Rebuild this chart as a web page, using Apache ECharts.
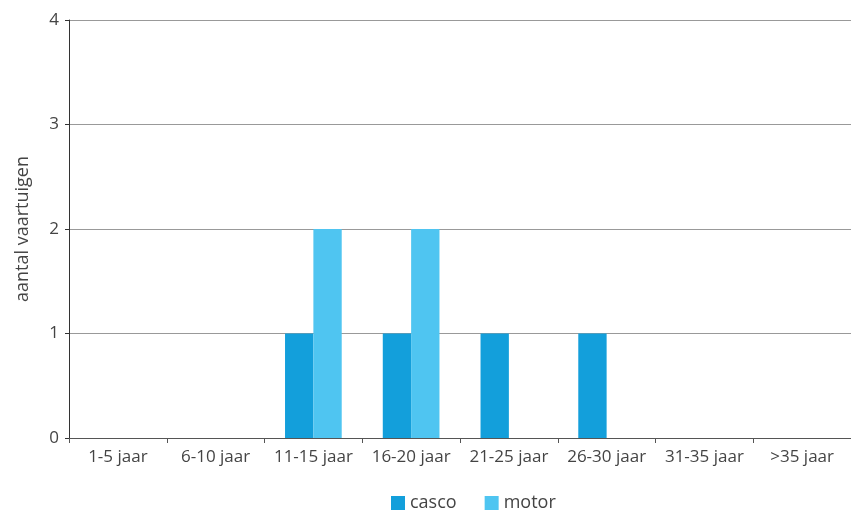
<!DOCTYPE html>
<html><head><meta charset="utf-8">
<script src="https://cdn.jsdelivr.net/npm/echarts@6/dist/echarts.min.js"></script>
<style>html,body{margin:0;padding:0;background:#fff}#c{width:851px;height:513px}</style>
</head><body><div id="c"></div>
<script>
const categories = ['1-5 jaar','6-10 jaar','11-15 jaar','16-20 jaar','21-25 jaar','26-30 jaar','31-35 jaar','>35 jaar'];
const casco = [0,0,1,1,1,1,0,0];
const motor = [0,0,2,2,0,0,0,0];
const yTicks = [0,1,2,3,4];
const chart = echarts.init(document.getElementById('c'));
const font = 'Open Sans';
chart.setOption({
  animation:false,
  textStyle:{fontFamily:font},
  grid:{left:69,right:0,top:20,bottom:75,containLabel:false},
  legend:{top:489,left:386,itemWidth:14,itemHeight:14,itemGap:28,icon:'rect',
    textStyle:{fontFamily:font,fontSize:18,color:'#444'},data:['casco','motor']},
  xAxis:{type:'category',data:categories,
    axisLine:{lineStyle:{color:'#555',width:1}},
    axisTick:{show:true,alignWithLabel:false,length:5,lineStyle:{color:'#555'}},
    axisLabel:{interval:0,fontFamily:font,fontSize:17,color:'#444',margin:11}},
  yAxis:{type:'value',min:yTicks[0],max:yTicks[yTicks.length-1],interval:1,
    name:'aantal vaartuigen',nameLocation:'middle',nameGap:37,nameRotate:90,
    nameTextStyle:{fontFamily:font,fontSize:18,color:'#444'},
    axisLine:{show:true,lineStyle:{color:'#333',width:1}},
    axisTick:{show:true,length:4,lineStyle:{color:'#333'}},
    axisLabel:{fontFamily:font,fontSize:17,color:'#444',margin:10},
    splitLine:{lineStyle:{color:'#999',width:1}}},
  series:[
    {name:'casco',type:'bar',data:casco,itemStyle:{color:'#139fdb'},barGap:'0%',barCategoryGap:'42%'},
    {name:'motor',type:'bar',data:motor,itemStyle:{color:'#4fc5f1'},barGap:'0%',barCategoryGap:'42%'}
  ]
});
</script></body></html>
